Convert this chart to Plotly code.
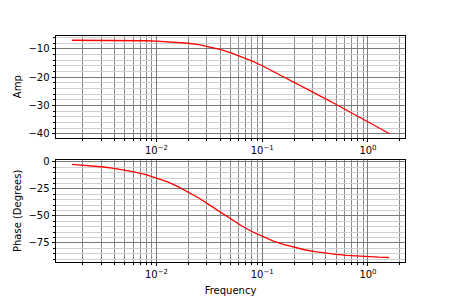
import plotly.graph_objects as go

# Data (frequency in Hz, amplitude in dB, phase in degrees)
freq = [0.001585, 0.001995, 0.002512, 0.003162, 0.003981, 0.005012, 0.00631, 0.007943,
        0.01, 0.01259, 0.01585, 0.01995, 0.02512, 0.03162, 0.03981, 0.05012, 0.0631,
        0.07943, 0.1, 0.1259, 0.1585, 0.1995, 0.2512, 0.3162, 0.3981, 0.5012, 0.631,
        0.7943, 1.0, 1.259, 1.585]
amp = [-7.01, -7.01, -7.02, -7.03, -7.05, -7.08, -7.12, -7.19, -7.29, -7.46, -7.70,
       -8.06, -8.58, -9.30, -10.23, -11.39, -12.77, -14.32, -16.0, -17.9, -19.8,
       -21.7, -23.7, -25.7, -27.7, -29.7, -31.7, -33.7, -35.7, -37.8, -39.9]
phase = [-2.39, -3.02, -3.79, -4.77, -6.00, -7.53, -9.45, -11.84, -14.78, -18.38,
         -22.70, -27.77, -33.54, -39.84, -46.41, -52.90, -59.02, -64.50, -69.25,
         -73.25, -76.55, -79.25, -81.42, -83.17, -84.56, -85.68, -86.56, -87.27,
         -87.83, -88.28, -88.63]

x_major = [0.01, 0.1, 1]
x_major_text = ["10<sup>\u22122</sup>", "10<sup>\u22121</sup>", "10<sup>0</sup>"]
x_minor = [m * 10 ** e for e in (-3, -2, -1, 0) for m in range(2, 10)]
amp_ticks = [-10, -20, -30, -40]
phase_ticks = [0, -25, -50, -75]

W, H = 450, 300
FONT = "DejaVu Sans"
MAJ_GRID = "#7a7a7a"
XMIN_GRID = "#8a8a8a"
MIN_GRID = "#cfcfcf"

fig = go.Figure()
fig.add_trace(go.Scatter(x=freq, y=amp, mode="lines", line=dict(color="red", width=1.3),
                         xaxis="x", yaxis="y", showlegend=False))
fig.add_trace(go.Scatter(x=freq, y=phase, mode="lines", line=dict(color="red", width=1.3),
                         xaxis="x2", yaxis="y2", showlegend=False))

def xax(anchor, title=None):
    d = dict(type="log", range=[-2.95, 0.35], anchor=anchor,
             tickmode="array", tickvals=x_major, ticktext=x_major_text,
             ticks="outside", ticklen=3.5, tickwidth=0.8, tickcolor="black",
             showline=True, linecolor="black", linewidth=1, mirror=True,
             showgrid=True, gridcolor=MAJ_GRID, gridwidth=0.8,
             minor=dict(tickmode="array", tickvals=x_minor, ticks="outside", ticklen=2,
                        tickwidth=0.6, tickcolor="black", showgrid=True,
                        gridcolor=XMIN_GRID, gridwidth=0.8),
             tickfont=dict(family=FONT, size=10, color="black"),
             zeroline=False, domain=[0, 1], automargin=False)
    if title:
        d["title"] = dict(text=title, font=dict(family=FONT, size=10, color="black"), standoff=7)
    return d

def yax(rng, ticks, minor_dt, dom, anchor, title):
    return dict(range=rng, domain=dom, anchor=anchor,
                tickmode="array", tickvals=ticks,
                ticks="outside", ticklen=3.5, tickwidth=0.8, tickcolor="black",
                showline=True, linecolor="black", linewidth=1, mirror=True,
                showgrid=True, gridcolor=MAJ_GRID, gridwidth=0.8,
                minor=dict(dtick=minor_dt, tick0=0, ticks="outside", ticklen=2, tickwidth=0.6,
                           tickcolor="black", showgrid=True, gridcolor=MIN_GRID, gridwidth=0.8),
                tickfont=dict(family=FONT, size=10, color="black"),
                title=dict(text=title, font=dict(family=FONT, size=10, color="black"), standoff=4),
                zeroline=False, automargin=False)

fig.update_layout(
    width=W, height=H,
    margin=dict(l=56, r=45, t=0, b=0),
    paper_bgcolor="white", plot_bgcolor="white",
    font=dict(family=FONT, size=10, color="black"),
    xaxis=xax("y"),
    yaxis=yax([-41.4, -5.4], amp_ticks, 2, [1 - 137.7 / H, 1 - 35.7 / H], "x", "Amp"),
    xaxis2=xax("y2", "Frequency"),
    yaxis2=yax([-92.5, 1.7], phase_ticks, 5, [1 - 261.7 / H, 1 - 160 / H], "x2", "Phase (Degrees)"),
)

fig.write_html("out.html", config={"displayModeBar": False},
               post_script="document.body.style.margin='0px';")
